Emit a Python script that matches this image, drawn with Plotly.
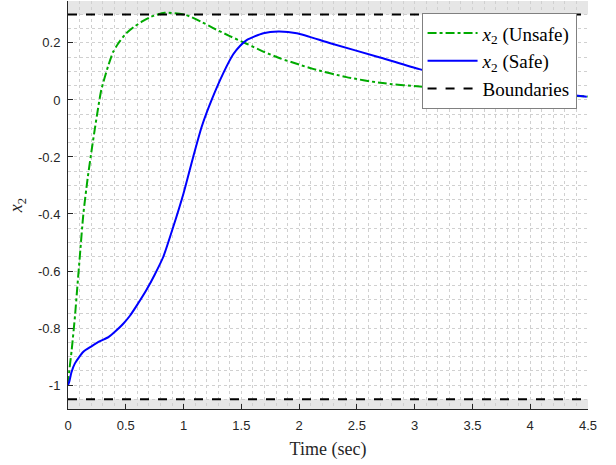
import plotly.graph_objects as go

t_unsafe = [0, 0.011, 0.032, 0.06, 0.08, 0.1, 0.133, 0.17, 0.205, 0.231, 0.26, 0.288, 0.346, 0.39,
            0.433, 0.5, 0.577, 0.65, 0.721, 0.836, 1.02, 1.15, 1.257, 1.4, 1.546, 1.7, 1.834, 2.0,
            2.12, 2.41, 2.7, 3.1, 3.56, 4.0, 4.5]
x2_unsafe = [-1.0, -0.95, -0.877, -0.76, -0.66, -0.56, -0.40, -0.275, -0.175, -0.105, -0.03,
             0.035, 0.117, 0.168, 0.197, 0.232, 0.258, 0.277, 0.292, 0.306, 0.298, 0.275, 0.252,
             0.224, 0.197, 0.168, 0.146, 0.124, 0.109, 0.08, 0.06, 0.045, 0.033, 0.022, 0.012]

t_safe = [0, 0.011, 0.03, 0.06, 0.133, 0.2, 0.277, 0.35, 0.42, 0.48, 0.536, 0.6, 0.681, 0.75, 0.825,
          0.911, 1.0, 1.084, 1.157, 1.243, 1.344, 1.43, 1.49, 1.546, 1.69, 1.82, 1.98, 2.27, 2.7,
          3.04, 3.3, 3.6, 4.0, 4.3, 4.49]
x2_safe = [-1.0, -0.988, -0.955, -0.924, -0.883, -0.865, -0.846, -0.832, -0.808, -0.784, -0.757,
           -0.718, -0.665, -0.613, -0.55, -0.445, -0.327, -0.199, -0.094, 0.0, 0.094, 0.16, 0.19,
           0.21, 0.234, 0.24, 0.234, 0.199, 0.149, 0.108, 0.082, 0.058, 0.034, 0.02, 0.011]

upper_bound = 0.3
lower_bound = -1.05
t_range = [0, 4.5]
y_range = [-1.084, 0.347]

serif = "Liberation Serif, DejaVu Serif, serif"
sans = "Liberation Sans, Arial, sans-serif"

fig = go.Figure()
fig.add_trace(go.Scatter(x=t_unsafe, y=x2_unsafe, mode="lines",
                         line=dict(color="#00aa00", width=2, dash="dashdot", shape="spline", smoothing=0.6),
                         name="<i>x</i><sub>2</sub> (Unsafe)"))
fig.add_trace(go.Scatter(x=t_safe, y=x2_safe, mode="lines",
                         line=dict(color="#0000ff", width=2, shape="spline", smoothing=0.6),
                         name="<i>x</i><sub>2</sub> (Safe)"))
fig.add_trace(go.Scatter(x=t_range, y=[upper_bound, upper_bound], mode="lines",
                         line=dict(color="black", width=2, dash="dash"), name="Boundaries"))
fig.add_trace(go.Scatter(x=t_range, y=[lower_bound, lower_bound], mode="lines",
                         line=dict(color="black", width=2, dash="dash"), showlegend=False))

fig.add_shape(type="rect", xref="paper", yref="y", x0=0, x1=1, y0=upper_bound, y1=y_range[1],
              fillcolor="#e6e6e6", line_width=0, layer="below")
fig.add_shape(type="rect", xref="paper", yref="y", x0=0, x1=1, y0=y_range[0], y1=lower_bound,
              fillcolor="#e6e6e6", line_width=0, layer="below")

grid_col = "#d0d0d0"
fig.update_layout(
    width=616, height=465,
    margin=dict(l=68, r=28, t=1, b=56),
    paper_bgcolor="white", plot_bgcolor="white",
    showlegend=True,
    legend=dict(x=0.978, y=0.97, xanchor="right", yanchor="top", bgcolor="white",
                bordercolor="#808080", borderwidth=1, font=dict(family=serif, size=19, color="black"),
                tracegroupgap=0, itemwidth=50),
    xaxis=dict(range=t_range, dtick=0.5, showline=True, linecolor="#262626", linewidth=1,
               ticks="inside", ticklen=5, tickcolor="#262626", zeroline=False,
               showgrid=True, gridcolor=grid_col, griddash="dot", gridwidth=1,
               minor=dict(dtick=0.1, showgrid=True, gridcolor=grid_col, griddash="dot", gridwidth=1),
               tickfont=dict(family=sans, size=13, color="#262626"), ticklabelstandoff=4,
               title=dict(text="Time (sec)", font=dict(family=serif, size=18, color="#262626"), standoff=10)),
    yaxis=dict(range=y_range, tickvals=[0.2, 0, -0.2, -0.4, -0.6, -0.8, -1],
               ticktext=["0.2", "0", "-0.2", "-0.4", "-0.6", "-0.8", "-1"],
               showline=True, linecolor="#262626", linewidth=1,
               ticks="inside", ticklen=5, tickcolor="#262626", zeroline=False,
               showgrid=True, gridcolor=grid_col, griddash="dot", gridwidth=1,
               minor=dict(dtick=0.05, tick0=0, showgrid=True, gridcolor=grid_col, griddash="dot", gridwidth=1),
               tickfont=dict(family=sans, size=13, color="#262626"), ticklabelstandoff=4,
               title=dict(text="<i>x</i><sub>2</sub>", font=dict(family=serif, size=18, color="#262626"), standoff=10)),
)

fig.write_html("out.html", config={"displayModeBar": False},
               post_script="document.body.style.margin='0';document.body.style.padding='0';")
